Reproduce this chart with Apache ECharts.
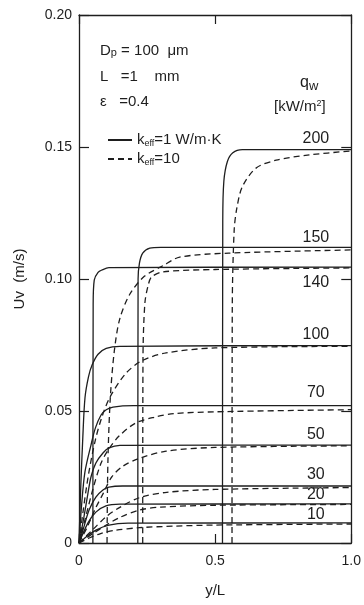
<!DOCTYPE html>
<html>
<head>
<meta charset="utf-8">
<script src="https://cdn.jsdelivr.net/npm/echarts/dist/echarts.min.js"></script>
<style>
  html, body { margin: 0; padding: 0; background: #fff; }
  #main { width: 364px; height: 605px; }
</style>
</head>
<body>
<div id="main"></div>
<script>
// heat flux values qw [kW/m2], one pair of curves each
var qLabels = ['200', '150', '140', '100', '70', '50', '30', '20', '10'];
var xTickLabels = ['0', '0.5', '1.0'];
var yTickLabels = ['0', '0.05', '0.10', '0.15', '0.20'];

// keff = 1 W/m.K (solid), points [y/L, Uv]
var solid200 = [[0.527, 0], [0.528, 0.122], [0.532, 0.137], [0.545, 0.1445], [0.565, 0.1478], [0.6, 0.149], [1.0, 0.149]];
var solid150 = [[0.216, 0], [0.217, 0.100], [0.222, 0.106], [0.234, 0.1098], [0.26, 0.1117], [0.3, 0.112], [1.0, 0.112]];
var solid140 = [[0.051, 0], [0.052, 0.090], [0.056, 0.0996], [0.07, 0.1025], [0.084, 0.1034], [0.11, 0.1043], [1.0, 0.1045]];
var solid100 = [[0, 0], [0.006, 0.020], [0.014, 0.040], [0.022, 0.055], [0.035, 0.063], [0.048, 0.0674], [0.07, 0.0715], [0.1, 0.0737], [0.15, 0.0745], [1.0, 0.0748]];
var solid70 = [[0, 0], [0.01, 0.015], [0.022, 0.027], [0.044, 0.0371], [0.06, 0.0435], [0.081, 0.0485], [0.1, 0.0505], [0.125, 0.0515], [0.2, 0.052], [1.0, 0.052]];
var solid50 = [[0, 0], [0.018, 0.0098], [0.033, 0.0189], [0.044, 0.025], [0.062, 0.0303], [0.088, 0.0341], [0.11, 0.036], [0.15, 0.037], [1.0, 0.0371]];
var solid30 = [[0, 0], [0.018, 0.0061], [0.037, 0.0125], [0.062, 0.0174], [0.088, 0.0201], [0.11, 0.0212], [0.16, 0.0216], [1.0, 0.0216]];
var solid20 = [[0, 0], [0.033, 0.0076], [0.062, 0.0117], [0.099, 0.0141], [0.15, 0.0147], [1.0, 0.0148]];
var solid10 = [[0, 0], [0.026, 0.0023], [0.062, 0.0049], [0.11, 0.0068], [0.18, 0.0075], [1.0, 0.0076]];

// keff = 10 (dashed)
var dashed200 = [[0.562, 0], [0.563, 0.090], [0.57, 0.1186], [0.58, 0.127], [0.6, 0.135], [0.65, 0.142], [0.724, 0.145], [0.846, 0.147], [1.0, 0.1485]];
var dashed150 = [[0.103, 0], [0.106, 0.030], [0.115, 0.055], [0.13, 0.073], [0.15, 0.085], [0.187, 0.0943], [0.24, 0.101], [0.308, 0.105], [0.37, 0.1083], [0.55, 0.1098], [1.0, 0.111]];
var dashed140 = [[0.234, 0], [0.235, 0.070], [0.242, 0.0909], [0.255, 0.098], [0.267, 0.1008], [0.308, 0.1027], [0.5, 0.1036], [1.0, 0.1042]];
var dashed100 = [[0, 0], [0.015, 0.012], [0.035, 0.026], [0.06, 0.039], [0.085, 0.048], [0.114, 0.0553], [0.17, 0.064], [0.23, 0.069], [0.32, 0.072], [0.5, 0.0739], [1.0, 0.0745]];
var dashed70 = [[0, 0], [0.02, 0.008], [0.05, 0.020], [0.08, 0.030], [0.107, 0.0352], [0.147, 0.0405], [0.209, 0.0455], [0.28, 0.0477], [0.35, 0.049], [0.5, 0.0497], [1.0, 0.0505]];
var dashed50 = [[0, 0], [0.03, 0.006], [0.06, 0.013], [0.09, 0.019], [0.12, 0.025], [0.16, 0.029], [0.22, 0.032], [0.32, 0.0348], [0.5, 0.0362], [1.0, 0.0368]];
var dashed30 = [[0, 0], [0.05, 0.005], [0.1, 0.010], [0.15, 0.0135], [0.223, 0.0172], [0.322, 0.0192], [0.5, 0.0203], [1.0, 0.021]];
var dashed20 = [[0, 0], [0.05, 0.0035], [0.1, 0.0068], [0.15, 0.0097], [0.223, 0.0125], [0.3, 0.0136], [0.5, 0.0143], [1.0, 0.0146]];
var dashed10 = [[0, 0], [0.04, 0.002], [0.077, 0.0035], [0.13, 0.0048], [0.223, 0.0058], [0.35, 0.0064], [0.5, 0.0068], [1.0, 0.0072]];

var solidCurves = [solid200, solid150, solid140, solid100, solid70, solid50, solid30, solid20, solid10];
var dashedCurves = [dashed200, dashed150, dashed140, dashed100, dashed70, dashed50, dashed30, dashed20, dashed10];

var ink = '#1e1e1e';
var font = 'Liberation Sans';
var labelOffsets = [-11, -10, 15, -11, -13, -10, -11, -9, -8];

var chart = echarts.init(document.getElementById('main'), null, { renderer: 'canvas' });

var series = [];
solidCurves.forEach(function (c, i) {
  series.push({
    name: 'k1',
    type: 'line',
    data: c,
    symbol: 'none',
    smooth: 0.3,
    animation: false,
    lineStyle: { color: ink, width: 1.3 },
    itemStyle: { color: ink },
    markPoint: {
      symbol: 'circle',
      symbolSize: 0,
      silent: true,
      data: [{ coord: [0.87, c[c.length - 1][1]] }],
      label: {
        show: true,
        position: 'inside',
        formatter: qLabels[i],
        offset: [0, labelOffsets[i]],
        color: ink,
        fontFamily: font,
        fontSize: 16
      }
    }
  });
});
dashedCurves.forEach(function (c) {
  series.push({
    name: 'k10',
    type: 'line',
    data: c,
    symbol: 'none',
    smooth: 0.3,
    animation: false,
    lineStyle: { color: ink, width: 1.3, type: [6, 4] },
    itemStyle: { color: ink }
  });
});

var axisLineStyle = { onZero: false, lineStyle: { color: ink, width: 1.3 } };
var tickStyle = { color: ink, width: 1.2 };

chart.setOption({
  animation: false,
  grid: { left: 79, right: 12, top: 15, bottom: 62 },
  legend: {
    orient: 'vertical',
    left: 102,
    top: 127,
    itemGap: 3,
    itemWidth: 24,
    itemHeight: 10,
    selectedMode: false,
    data: [{ name: 'k1' }, { name: 'k10' }],
    itemStyle: { opacity: 0 },
    formatter: function (name) {
      return name === 'k1' ? '{k|k}{s|eff}{k|=1 W/m·K}' : '{k|k}{s|eff}{k|=10}';
    },
    textStyle: {
      color: ink,
      fontFamily: font,
      rich: {
        k: { fontSize: 15, color: ink, fontFamily: font, lineHeight: 18 },
        s: { fontSize: 9, color: ink, fontFamily: font, lineHeight: 18, padding: [7, 0, 0, 0] }
      }
    }
  },
  xAxis: [{
    type: 'value', min: 0, max: 1, interval: 0.5, position: 'bottom',
    axisLine: axisLineStyle,
    axisTick: { inside: true, length: 9, lineStyle: tickStyle },
    splitLine: { show: false },
    axisLabel: {
      color: ink, fontFamily: font, fontSize: 14, margin: 11,
      formatter: function (v) { return xTickLabels[Math.round(v / 0.5)]; }
    },
    name: 'y/L', nameLocation: 'middle', nameGap: 40,
    nameTextStyle: { color: ink, fontFamily: font, fontSize: 15 }
  }, {
    type: 'value', min: 0, max: 1, interval: 0.5, position: 'top',
    axisLine: axisLineStyle,
    axisTick: { inside: true, length: 9, lineStyle: tickStyle },
    splitLine: { show: false },
    axisLabel: { show: false }
  }],
  yAxis: [{
    type: 'value', min: 0, max: 0.2, interval: 0.05, position: 'left',
    axisLine: axisLineStyle,
    axisTick: { inside: true, length: 10, lineStyle: tickStyle },
    splitLine: { show: false },
    axisLabel: {
      color: ink, fontFamily: font, fontSize: 14, margin: 7,
      formatter: function (v) { return yTickLabels[Math.round(v / 0.05)]; }
    },
    name: 'Uv  (m/s)', nameLocation: 'middle', nameGap: 52, nameRotate: 90,
    nameTextStyle: { color: ink, fontFamily: font, fontSize: 15 }
  }, {
    type: 'value', min: 0, max: 0.2, interval: 0.05, position: 'right',
    axisLine: axisLineStyle,
    axisTick: { inside: true, length: 10, lineStyle: tickStyle },
    splitLine: { show: false },
    axisLabel: { show: false }
  }],
  graphic: [
    {
      type: 'text', left: 100, top: 43,
      style: {
        text: '{a|D}{s|p}{a| = 100  μm}',
        rich: {
          a: { fontSize: 15, fontFamily: font, fill: ink, lineHeight: 18 },
          s: { fontSize: 11, fontFamily: font, fill: ink, lineHeight: 18, padding: [4, 0, 0, 0] }
        }
      }
    },
    { type: 'text', left: 100, top: 69, style: { text: 'L   =1    mm', fontSize: 15, fontFamily: font, fill: ink } },
    { type: 'text', left: 100, top: 94, style: { text: 'ε   =0.4', fontSize: 15, fontFamily: font, fill: ink } },
    {
      type: 'text', left: 300, top: 72,
      style: {
        text: '{a|q}{s|w}',
        rich: {
          a: { fontSize: 16, fontFamily: font, fill: ink, lineHeight: 18 },
          s: { fontSize: 13, fontFamily: font, fill: ink, lineHeight: 18, padding: [8, 0, 0, 0] }
        }
      }
    },
    {
      type: 'text', left: 274, top: 99,
      style: {
        text: '{a|[kW/m}{s|2}{a|]}',
        rich: {
          a: { fontSize: 15, fontFamily: font, fill: ink, lineHeight: 18 },
          s: { fontSize: 9, fontFamily: font, fill: ink, lineHeight: 18, padding: [0, 0, 7, 0] }
        }
      }
    }
  ],
  series: series
});
</script>
</body>
</html>
